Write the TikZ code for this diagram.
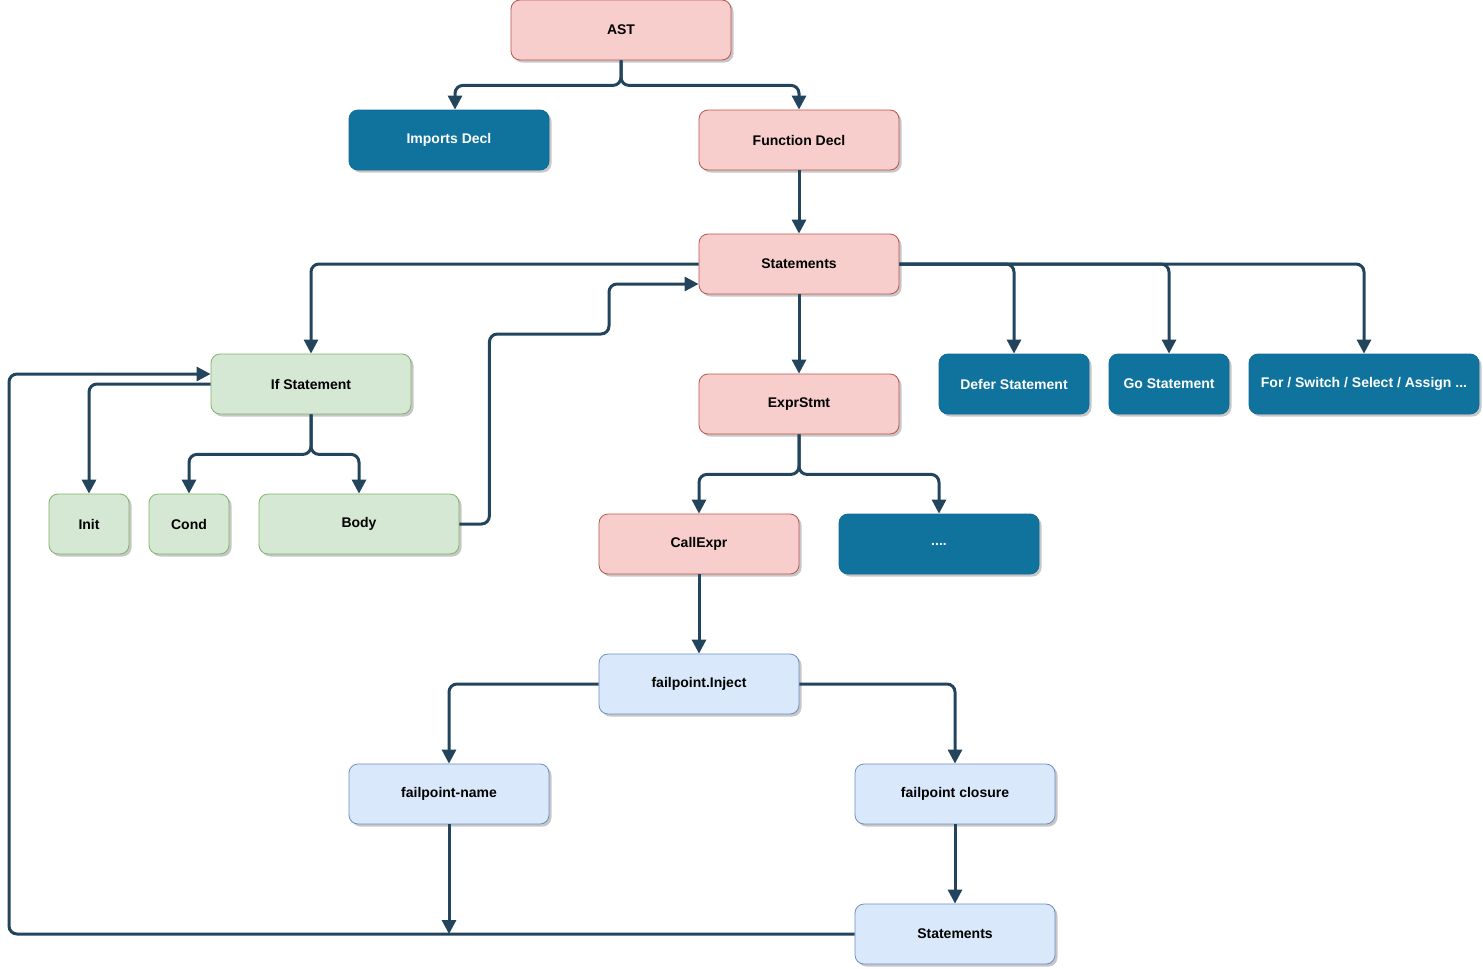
\documentclass[tikz,border=0pt]{standalone}
\usepackage{fontspec}
\setmainfont{Liberation Sans}
\usetikzlibrary{arrows.meta,shadows}
\definecolor{pinkf}{HTML}{F8CECC}
\definecolor{pinkd}{HTML}{B85450}
\definecolor{bluef}{HTML}{10739E}
\definecolor{blued}{HTML}{0E6A93}
\definecolor{greenf}{HTML}{D5E8D4}
\definecolor{greend}{HTML}{82B366}
\definecolor{lbluef}{HTML}{DAE8FC}
\definecolor{lblued}{HTML}{6C8EBF}
\definecolor{conncol}{HTML}{23445D}
\tikzset{
  box/.style={rectangle, rounded corners=9pt, line width=0.8pt, inner sep=0pt,
    minimum width=200pt, minimum height=60pt,
    font=\fontsize{14}{16}\selectfont\bfseries,
    drop shadow={shadow xshift=2.5pt, shadow yshift=-2.5pt, fill=black, opacity=0.22}},
  pinkbox/.style={box, fill=pinkf, draw=pinkd, text=black},
  bluebox/.style={box, fill=bluef, draw=blued, text=white},
  greenbox/.style={box, fill=greenf, draw=greend, text=black},
  lbluebox/.style={box, fill=lbluef, draw=lblued, text=black},
  conn/.style={draw=conncol, line width=3pt, rounded corners=8pt,
    -{Triangle[width=14pt,length=14pt]}},
}
\begin{document}
\begin{tikzpicture}[x=1pt,y=-1pt]
\useasboundingbox (0,0) rectangle (1483,969);
\node[pinkbox, minimum width=220pt] (ast) at (621,30) {AST};
\node[bluebox] (imports) at (449,140) {Imports Decl};
\node[pinkbox] (func) at (799,140) {Function Decl};
\node[pinkbox] (stmts) at (799,264) {Statements};
\node[greenbox] (ifst) at (311,384) {If Statement};
\node[bluebox, minimum width=150pt] (defer) at (1014,384) {Defer Statement};
\node[bluebox, minimum width=120pt] (go) at (1169,384) {Go Statement};
\node[bluebox, minimum width=230pt] (forst) at (1364,384) {For / Switch / Select / Assign ...};
\node[pinkbox] (expr) at (799,404) {ExprStmt};
\node[greenbox, minimum width=80pt] (init) at (89,524) {Init};
\node[greenbox, minimum width=80pt] (cond) at (189,524) {Cond};
\node[greenbox] (body) at (359,524) {Body};
\node[pinkbox] (call) at (699,544) {CallExpr};
\node[bluebox] (dots) at (939,544) {....};
\node[lbluebox] (inject) at (699,684) {failpoint.Inject};
\node[lbluebox] (fname) at (449,794) {failpoint-name};
\node[lbluebox] (closure) at (955,794) {failpoint closure};
\node[lbluebox] (stmts2) at (955,934) {Statements};
\coordinate (join) at (449,934);

\draw[conn] (ast.south) -- ++(0,25) -| ([xshift=6pt]imports.north);
\draw[conn] (ast.south) -- ++(0,25) -| (func.north);
\draw[conn] (func.south) -- (stmts.north);
\draw[conn] (stmts.west) -| (ifst.north);
\draw[conn] (stmts.south) -- (expr.north);
\draw[conn] (stmts.east) -| (defer.north);
\draw[conn] (stmts.east) -| (go.north);
\draw[conn] (stmts.east) -| (forst.north);
\draw[conn] (ifst.west) -| (init.north);
\draw[conn] (ifst.south) -- ++(0,40) -| (cond.north);
\draw[conn] (ifst.south) -- ++(0,40) -| (body.north);
\draw[conn] (body.east) -- ++(30,0) |- (609,334) |- ([yshift=-20pt]stmts.west);
\draw[conn] (expr.south) -- ++(0,40) -| (call.north);
\draw[conn] (expr.south) -- ++(0,40) -| (dots.north);
\draw[conn] (call.south) -- (inject.north);
\draw[conn] (inject.west) -| (fname.north);
\draw[conn] (inject.east) -| (closure.north);
\draw[conn] (fname.south) -- (join);
\draw[conn] (closure.south) -- (stmts2.north);
\draw[conn] (stmts2.west) -| (9,374) -- ([yshift=10pt]ifst.west);
\end{tikzpicture}
\end{document}
